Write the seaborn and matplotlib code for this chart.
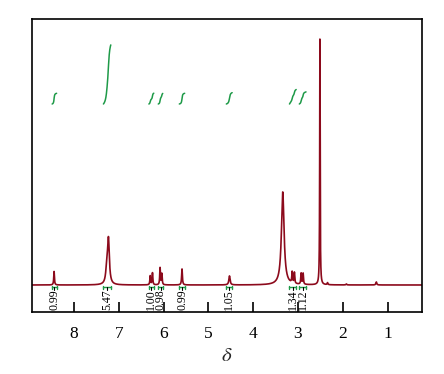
import numpy as np
import pandas as pd
import matplotlib
matplotlib.use("Agg")
import matplotlib.pyplot as plt
import seaborn as sns

# Peak list (ppm, height in arbitrary units, half-width in ppm)
peak_ppm = [8.447, 7.27, 7.233, 6.30, 6.25, 6.08, 6.04, 5.59, 4.53, 3.34,
            3.13, 3.08, 2.93, 2.885, 2.51, 2.34, 1.92, 1.25]
peak_height = [13.5, 14, 44, 9, 12, 17, 11, 16, 9, 93,
               11, 11, 11, 11, 246, 2, 1, 3]
peak_hwhm = [0.009, 0.025, 0.024, 0.009, 0.009, 0.009, 0.009, 0.01, 0.016, 0.035,
             0.009, 0.009, 0.009, 0.009, 0.006, 0.01, 0.01, 0.012]

# Integration regions (ppm) and values
int_hi = [8.49, 7.345, 6.33, 6.12, 5.65, 4.60, 3.19, 2.97]
int_lo = [8.39, 7.18, 6.22, 6.02, 5.53, 4.47, 3.04, 2.82]
int_val = [0.99, 5.47, 1.00, 0.98, 0.99, 1.05, 1.34, 1.12]

x_ticks = [8, 7, 6, 5, 4, 3, 2, 1]

red = "#8c0a1c"
green = "#1e9a48"

ppm = np.linspace(8.94, 0.23, 18000)
spec = np.zeros_like(ppm)
for c, h, w in zip(peak_ppm, peak_height, peak_hwhm):
    spec += h * w**2 / ((ppm - c)**2 + w**2)
df = pd.DataFrame({"ppm": ppm, "I": spec})

sns.set_theme(style="white")
plt.rcParams["font.family"] = ["Liberation Serif", "DejaVu Serif"]
plt.rcParams["mathtext.fontset"] = "stix"

fig = plt.figure(figsize=(4.44, 3.74), dpi=100)
ax = fig.add_axes([32/444, 62/374, 390/444, 293/374])

sns.lineplot(data=df, x="ppm", y="I", ax=ax, color=red, lw=1.2, sort=False,
             estimator=None)

int_base = 181
int_scale = 10.8
for hi, lo, v in zip(int_hi, int_lo, int_val):
    m = (ppm <= hi) & (ppm >= lo)
    xs = ppm[m]
    ys = spec[m]
    cum = np.cumsum(ys)
    cum = (cum - cum[0]) / (cum[-1] - cum[0])
    ax.plot(xs, int_base + cum * v * int_scale, color=green, lw=1.1)
    # bracket
    ax.plot([hi, lo], [-2, -2], color=green, lw=1.0)
    ax.plot([hi, hi], [-3.5, -0.5], color=green, lw=1.0)
    ax.plot([lo, lo], [-3.5, -0.5], color=green, lw=1.0)
    mid = (hi + lo) / 2
    ax.plot([mid, mid], [-2, -5], color="black", lw=0.8)
    ax.text(mid, -4.5, f"{v:.2f}", rotation=90, ha="center", va="top",
            fontsize=8.5, color="black")

ax.set_xlim(8.94, 0.23)
ax.set_ylim(-27, 266)
ax.set_xticks(x_ticks)
ax.set_xticklabels([str(t) for t in x_ticks])
ax.set_yticks([])
ax.tick_params(axis="x", direction="in", length=7, width=1.2, pad=10,
               labelsize=12.5, bottom=True, colors="black")
for s in ax.spines.values():
    s.set_visible(True)
    s.set_color("black")
    s.set_linewidth(1.2)
ax.set_ylabel("")
ax.set_xlabel(r"$\delta$", fontsize=15, labelpad=4)

fig.savefig("out.png", dpi=100)
